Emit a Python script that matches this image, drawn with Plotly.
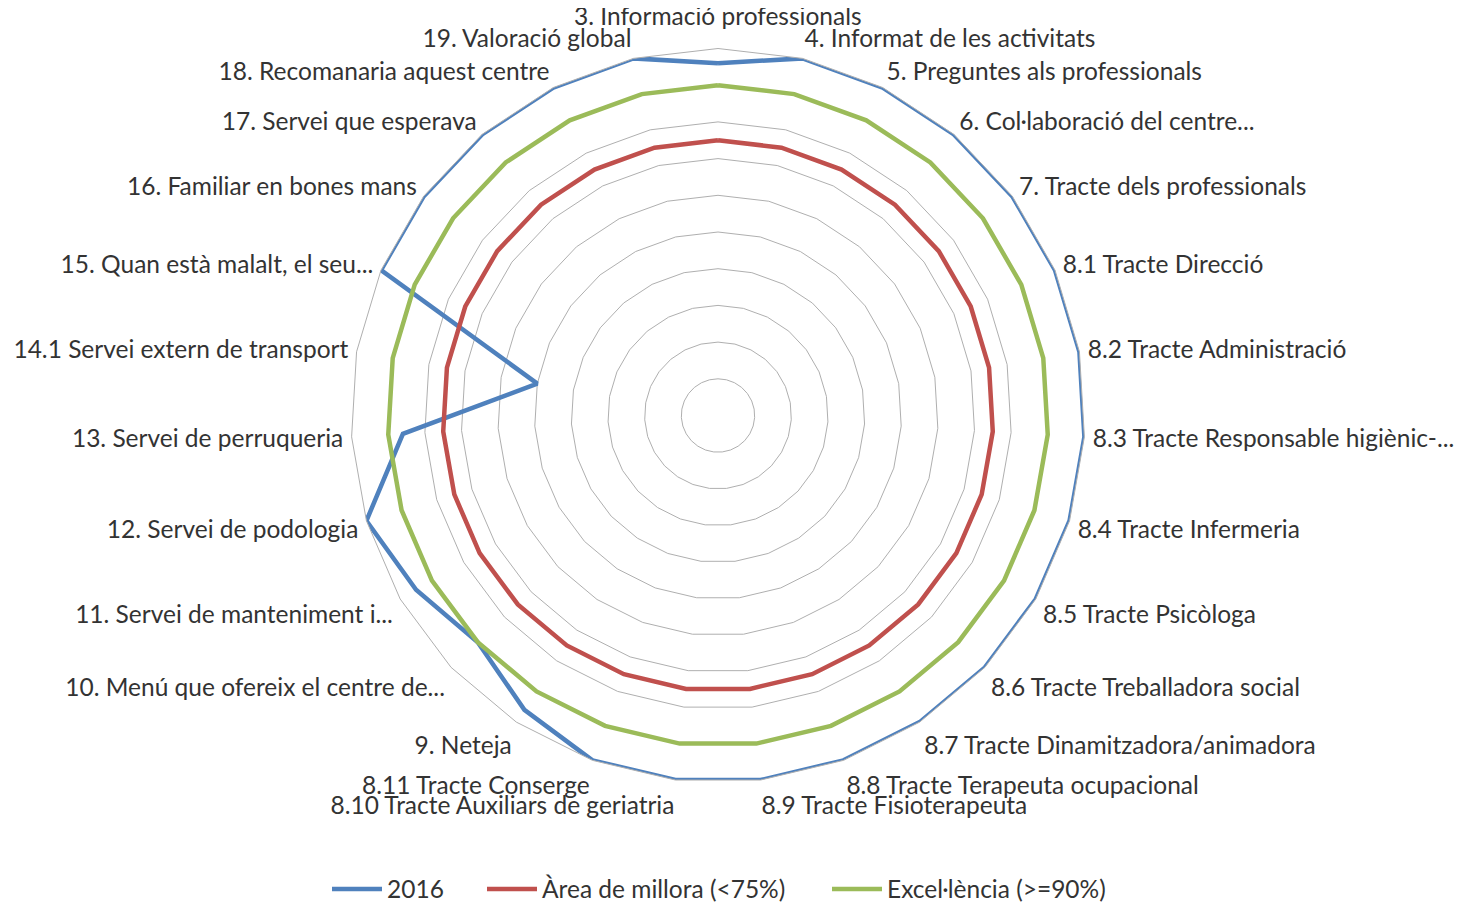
import plotly.graph_objects as go

categories = [
    "3. Informació professionals",
    "4. Informat de les activitats",
    "5. Preguntes als professionals",
    "6. Col·laboració del centre...",
    "7. Tracte dels professionals",
    "8.1 Tracte Direcció",
    "8.2 Tracte Administració",
    "8.3 Tracte Responsable higiènic-...",
    "8.4 Tracte Infermeria",
    "8.5 Tracte Psicòloga",
    "8.6 Tracte Treballadora social",
    "8.7 Tracte Dinamitzadora/animadora",
    "8.8 Tracte Terapeuta ocupacional",
    "8.9 Tracte Fisioterapeuta",
    "8.10 Tracte Auxiliars de geriatria",
    "8.11 Tracte Conserge",
    "9. Neteja",
    "10. Menú que ofereix el centre de...",
    "11. Servei de manteniment i...",
    "12. Servei de podologia",
    "13. Servei de perruqueria",
    "14.1 Servei extern de transport",
    "15. Quan està malalt, el seu...",
    "16. Familiar en bones mans",
    "17. Servei que esperava",
    "18. Recomanaria aquest centre",
    "19. Valoració global",
]

valors_2016 = [96, 100, 100, 100, 100, 100, 100, 100, 100, 100, 100, 100, 100, 100,
               100, 100, 96, 90, 95, 100, 86, 50, 100, 100, 100, 100, 100]
area_millora = [75] * len(categories)
excellencia = [90] * len(categories)

series = [
    ("2016", valors_2016, "#4F81BD", "legend"),
    ("Àrea de millora (<75%)", area_millora, "#C0504D", "legend2"),
    ("Excel·lència (>=90%)", excellencia, "#9BBB59", "legend3"),
]

# page body has an 8px margin, figure is drawn inside it
W, H = 1453, 896
cx, cy, R = 710, 407.5, 367
TXT = "#333333"
FONT = "Lato"
FS = 24.5
GRID = "#AFAFAF"

fig = go.Figure()
for name, vals, color, leg in series:
    # close the polygon
    fig.add_trace(go.Scatterpolar(
        r=vals + vals[:1],
        theta=categories + categories[:1],
        mode="lines",
        name=name,
        legend=leg,
        showlegend=True,
        line=dict(color=color, width=4.5),
    ))

# the top label sits higher in the original, so it goes in an annotation
ticktext = [""] + categories[1:]

def legend_at(xpix):
    return dict(x=xpix / W, xanchor="left", y=1 - 881 / H, yanchor="middle",
                orientation="h", font=dict(family=FONT, size=FS, color=TXT),
                itemwidth=50, bgcolor="rgba(0,0,0,0)", visible=True)

fig.update_layout(
    width=W,
    height=H,
    showlegend=True,
    paper_bgcolor="white",
    plot_bgcolor="white",
    font=dict(family=FONT, size=FS, color=TXT),
    margin=dict(l=0, r=0, t=0, b=0, autoexpand=False),
    polar=dict(
        bgcolor="white",
        gridshape="linear",
        domain=dict(x=[(cx - R) / W, (cx + R) / W],
                    y=[1 - (cy + R) / H, 1 - (cy - R) / H]),
        radialaxis=dict(range=[0, 100], dtick=10, showticklabels=False, ticks="",
                        showline=False, gridcolor=GRID, gridwidth=1),
        angularaxis=dict(direction="clockwise", rotation=90, showgrid=False,
                         ticks="outside", ticklen=3, tickcolor="rgba(0,0,0,0)",
                         tickmode="array", tickvals=categories, ticktext=ticktext,
                         showline=True, linecolor=GRID, linewidth=1,
                         tickfont=dict(family=FONT, size=FS, color=TXT)),
    ),
    legend=legend_at(319),
    legend2=legend_at(474),
    legend3=legend_at(819),
    annotations=[dict(text=categories[0], x=cx / W, y=1 - 8 / H, xref="paper", yref="paper",
                      xanchor="center", yanchor="middle", showarrow=False,
                      font=dict(family=FONT, size=FS, color=TXT))],
)

fig.write_html("out.html")
